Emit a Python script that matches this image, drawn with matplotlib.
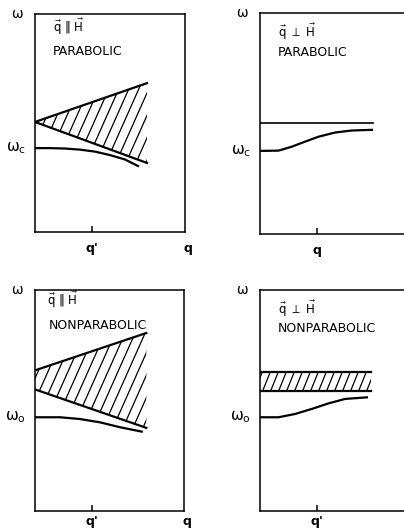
import numpy as np
import matplotlib.pyplot as plt
from matplotlib.patches import Polygon

# dispersion sketches, axes run 0..1 in q and omega
# q || H, parabolic
pl_x = [0.0, 0.747]
pl_upper = [0.505, 0.683]
pl_lower = [0.505, 0.317]
pl_curve_x = [0.0, 0.1, 0.2, 0.3, 0.4, 0.5, 0.6, 0.687]
pl_curve_y = [0.385, 0.385, 0.383, 0.378, 0.369, 0.353, 0.333, 0.303]

# q perp H, parabolic
pp_line_x = [0.0, 0.753]
pp_line_y = [0.502, 0.502]
pp_curve_x = [0.0, 0.035, 0.124, 0.213, 0.302, 0.391, 0.502, 0.613, 0.747]
pp_curve_y = [0.376, 0.376, 0.377, 0.395, 0.418, 0.440, 0.459, 0.468, 0.471]

# q || H, nonparabolic
nl_x = [0.0, 0.747]
nl_upper = [0.636, 0.805]
nl_lower = [0.55, 0.376]
nl_curve_x = [0.0, 0.168, 0.302, 0.436, 0.57, 0.716]
nl_curve_y = [0.424, 0.424, 0.416, 0.401, 0.379, 0.359]

# q perp H, nonparabolic
np_band_x = [0.0, 0.74]
np_band_top = [0.629, 0.629]
np_band_bot = [0.543, 0.543]
np_curve_x = [0.0, 0.035, 0.124, 0.235, 0.347, 0.458, 0.569, 0.713]
np_curve_y = [0.424, 0.424, 0.424, 0.439, 0.462, 0.487, 0.507, 0.514]

q_tick = 0.38

plt.rcParams['font.family'] = ['DejaVu Sans']
plt.rcParams['mathtext.fontset'] = 'dejavusans'

fig = plt.figure(figsize=(4.04, 5.29), dpi=100)
ax_pl = fig.add_axes([0.0866, 0.5614, 0.371, 0.412])
ax_pp = fig.add_axes([0.6436, 0.5577, 0.371, 0.418])
ax_nl = fig.add_axes([0.0866, 0.034, 0.369, 0.418])
ax_np = fig.add_axes([0.6436, 0.034, 0.371, 0.418])

LW = 1.6


def frame(ax, tick_label, right_q, pad):
    ax.set_xlim(0, 1)
    ax.set_ylim(0, 1)
    for s in ax.spines.values():
        s.set_linewidth(1.1)
    ax.set_yticks([])
    ax.set_xticks([q_tick])
    ax.set_xticklabels([tick_label], fontsize=9, fontweight='bold')
    ax.tick_params(axis='x', direction='in', length=4, width=1.1, pad=pad)
    ax.text(-0.12, 1.0, 'ω', transform=ax.transAxes, fontsize=10,
            ha='center', va='center')
    if right_q:
        # same height as the tick label under the axis
        ax.annotate('q', xy=(1.02, 0), xycoords='axes fraction',
                    xytext=(0, -pad), textcoords='offset points',
                    fontsize=9, fontweight='bold', ha='center', va='top')


def hatch(ax, verts, spacing, angle):
    # draw slanted hatch lines and clip them to the shaded polygon
    poly = Polygon(verts, closed=True, facecolor='none', edgecolor='none')
    ax.add_patch(poly)
    slope = np.tan(np.radians(angle))
    asp = ax.bbox.height / ax.bbox.width
    dx = spacing / ax.bbox.width
    for x0 in np.arange(-1.0, 2.0, dx):
        ln, = ax.plot([x0, x0 + asp / slope], [0, 1.0],
                      color='black', lw=0.9)
        ln.set_clip_path(poly)


# q || H, parabolic
frame(ax_pl, "q'", True, 7)
ax_pl.plot(pl_x, pl_upper, color='black', lw=LW)
ax_pl.plot(pl_x, pl_lower, color='black', lw=LW)
hatch(ax_pl, list(zip(pl_x, pl_upper)) + list(zip(pl_x[::-1], pl_lower[::-1])), 10, 66)
ax_pl.plot(pl_curve_x, pl_curve_y, color='black', lw=LW)
ax_pl.text(-0.06, pl_curve_y[0], r'$\mathrm{\omega}_\mathrm{c}$', fontsize=11, ha='right', va='center')
ax_pl.text(0.12, 0.94, r'$\vec{\mathrm{q}}\ \Vert\ \vec{\mathrm{H}}$', fontsize=8.5, va='center')
ax_pl.text(0.12, 0.83, 'PARABOLIC', fontsize=9, va='center')

# q perp H, parabolic
frame(ax_pp, 'q', False, 7)
ax_pp.plot(pp_line_x, pp_line_y, color='black', lw=1.2)
ax_pp.plot(pp_curve_x, pp_curve_y, color='black', lw=LW)
ax_pp.text(-0.06, pp_curve_y[0], r'$\mathrm{\omega}_\mathrm{c}$', fontsize=11, ha='right', va='center')
ax_pp.text(0.12, 0.914, r'$\vec{\mathrm{q}}\ \perp\ \vec{\mathrm{H}}$', fontsize=8.5, va='center')
ax_pp.text(0.12, 0.82, 'PARABOLIC', fontsize=9, va='center')

# q || H, nonparabolic
frame(ax_nl, "q'", True, 3)
ax_nl.plot(nl_x, nl_upper, color='black', lw=LW)
ax_nl.plot(nl_x, nl_lower, color='black', lw=LW)
hatch(ax_nl, list(zip(nl_x, nl_upper)) + list(zip(nl_x[::-1], nl_lower[::-1])), 10, 66)
ax_nl.plot(nl_curve_x, nl_curve_y, color='black', lw=LW)
ax_nl.text(-0.06, nl_curve_y[0], r'$\mathrm{\omega}_\mathrm{o}$', fontsize=11, ha='right', va='center')
ax_nl.text(0.08, 0.955, r'$\vec{\mathrm{q}}\ \Vert\ \vec{\mathrm{H}}$', fontsize=8.5, va='center')
ax_nl.text(0.09, 0.84, 'NONPARABOLIC', fontsize=9, va='center')

# q perp H, nonparabolic
frame(ax_np, "q'", False, 3)
ax_np.plot(np_band_x, np_band_top, color='black', lw=LW)
ax_np.plot(np_band_x, np_band_bot, color='black', lw=LW)
hatch(ax_np, list(zip(np_band_x, np_band_top)) + list(zip(np_band_x[::-1], np_band_bot[::-1])), 8, 68)
ax_np.plot(np_curve_x, np_curve_y, color='black', lw=LW)
ax_np.text(-0.06, np_curve_y[0], r'$\mathrm{\omega}_\mathrm{o}$', fontsize=11, ha='right', va='center')
ax_np.text(0.12, 0.914, r'$\vec{\mathrm{q}}\ \perp\ \vec{\mathrm{H}}$', fontsize=8.5, va='center')
ax_np.text(0.12, 0.824, 'NONPARABOLIC', fontsize=9, va='center')

fig.savefig('out.png', dpi=100)
